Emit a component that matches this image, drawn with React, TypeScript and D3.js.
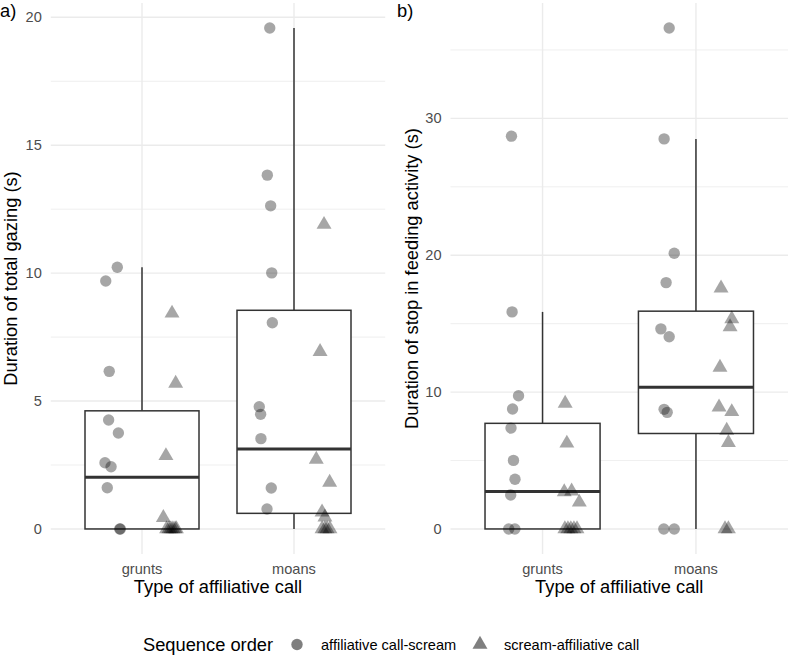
import * as React from "react"
import * as d3 from "d3"

// categories and groups
const callTypes = ["grunts", "moans"]
const orders = ["affiliative call-scream", "scream-affiliative call"]

// a) total gazing (s)
const gazeGruntsCS = [10.23, 9.69, 6.16, 4.26, 3.75, 2.59, 2.43, 1.61, 0, 0]
const gazeGruntsSC = [8.43, 5.69, 2.86, 0.44, 0, 0, 0, 0, 0, 0]
const gazeMoansCS = [19.58, 13.83, 12.63, 10.01, 8.06, 4.78, 4.48, 3.53, 1.6, 0.78]
const gazeMoansSC = [11.9, 6.93, 2.72, 1.82, 0.66, 0.46, 0, 0, 0, 0]

// jitter (category units) for the points of a)
const gazeGruntsCSJit = [0.025, -0.051, -0.028, -0.032, 0.032, -0.056, -0.016, -0.041, 0.041, 0.045]
const gazeGruntsSCJit = [0.01, 0.034, -0.03, -0.047, -0.026, -0.01, 0.003, 0.016, 0.03, 0.039]
const gazeMoansCSJit = [0.028, 0.012, 0.034, 0.041, 0.045, -0.041, -0.032, -0.03, 0.038, 0.01]
const gazeMoansSCJit = [0.01, -0.016, -0.041, 0.047, -0.003, 0.016, -0.003, 0.016, 0.03, 0.049]

// b) stop in feeding activity (s)
const stopGruntsCS = [28.7, 15.86, 9.73, 8.76, 7.37, 5.01, 3.63, 2.48, 0, 0]
const stopGruntsSC = [9.17, 6.26, 2.7, 2.76, 1.95, 0, 0, 0, 0, 0]
const stopMoansCS = [36.6, 28.5, 20.15, 18.0, 14.62, 14.04, 8.74, 8.52, 0, 0]
const stopMoansSC = [17.6, 15.35, 14.77, 11.8, 8.9, 8.56, 7.2, 6.3, 0, 0]

const stopGruntsCSJit = [-0.015, -0.011, 0.031, -0.008, -0.018, -0.002, 0.008, -0.02, -0.033, 0.007]
const stopGruntsSCJit = [-0.04, -0.029, -0.046, 0.002, 0.052, -0.042, -0.022, -0.003, 0.017, 0.037]
const stopMoansCSJit = [0.013, -0.02, 0.046, -0.007, -0.041, 0.013, -0.02, 0, -0.022, 0.046]
const stopMoansSCJit = [-0.024, 0.046, 0.035, -0.031, -0.037, 0.046, 0.013, 0.024, 0.002, 0.024]

const gazeTicks = [0, 5, 10, 15, 20]
const stopTicks = [0, 10, 20, 30]

const FONT = "'Liberation Sans', Arial, sans-serif"
const TITLE_SIZE = 18.3
const TICK_SIZE = 14.6
const PLOT_TOP = 3
const PLOT_BOTTOM = 554
const DODGE = 0.1875

interface Group {
    cat: string
    order: number
    values: number[]
    jitter: number[]
}

interface PanelProps {
    label: string
    yTitle: string
    groups: Group[]
    ticks: number[]
    left: number
    right: number
    titleX: number
}

const circlePath = d3.symbol(d3.symbolCircle, 102)()
const trianglePath = d3.symbol(d3.symbolTriangle, 97)()

function boxStats(vals: number[]) {
    const s = [...vals].sort(d3.ascending)
    const q1 = d3.quantileSorted(s, 0.25) as number
    const med = d3.quantileSorted(s, 0.5) as number
    const q3 = d3.quantileSorted(s, 0.75) as number
    const iqr = q3 - q1
    const lo = d3.min(s.filter(v => v >= q1 - 1.5 * iqr)) as number
    const hi = d3.max(s.filter(v => v <= q3 + 1.5 * iqr)) as number
    return { q1, med, q3, lo, hi }
}

function Panel(props: PanelProps) {
    const { groups, ticks, left, right } = props
    const all = groups.flatMap(g => g.values)
    const maxV = d3.max(all) as number
    const pad = maxV * 0.05

    const x = d3.scaleBand<string>()
        .domain(callTypes)
        .range([left, right])
        .paddingInner(0)
        .paddingOuter(0.1)
    const unit = x.bandwidth()
    const cx = (c: string) => (x(c) as number) + unit / 2

    const y = d3.scaleLinear()
        .domain([-pad, maxV + pad])
        .range([PLOT_BOTTOM, PLOT_TOP])

    const step = ticks[1] - ticks[0]
    const minor = ticks.map(t => t + step / 2).filter(t => y(t) >= PLOT_TOP)
    const boxW = unit * 0.75

    return (
        <g>
            {/* grid */}
            {minor.map(t => (
                <line key={"mi" + t} x1={left} x2={right} y1={y(t)} y2={y(t)}
                    stroke="#ebebeb" strokeWidth={0.8} />
            ))}
            {ticks.map(t => (
                <line key={"ma" + t} x1={left} x2={right} y1={y(t)} y2={y(t)}
                    stroke="#ebebeb" strokeWidth={1.4} />
            ))}
            {callTypes.map(c => (
                <line key={"v" + c} x1={cx(c)} x2={cx(c)} y1={PLOT_TOP} y2={PLOT_BOTTOM}
                    stroke="#ebebeb" strokeWidth={1.4} />
            ))}

            {/* boxplots */}
            {callTypes.map(c => {
                const vals = groups.filter(g => g.cat === c).flatMap(g => g.values)
                const b = boxStats(vals)
                const xc = cx(c)
                return (
                    <g key={"box" + c} stroke="#333333" fill="none">
                        <line x1={xc} x2={xc} y1={y(b.q3)} y2={y(b.hi)} strokeWidth={1.5} />
                        <line x1={xc} x2={xc} y1={y(b.q1)} y2={y(b.lo)} strokeWidth={1.5} />
                        <rect x={xc - boxW / 2} y={y(b.q3)} width={boxW} height={y(b.q1) - y(b.q3)}
                            fill="#ffffff" strokeWidth={1.5} />
                        <line x1={xc - boxW / 2} x2={xc + boxW / 2} y1={y(b.med)} y2={y(b.med)}
                            strokeWidth={3} />
                    </g>
                )
            })}

            {/* jittered points */}
            {groups.map((g, gi) => g.values.map((v, i) => {
                const px = cx(g.cat) + ((g.order === 0 ? -DODGE : DODGE) + g.jitter[i]) * unit
                return (
                    <path key={"p" + gi + "-" + i}
                        d={(g.order === 0 ? circlePath : trianglePath) as string}
                        transform={`translate(${px},${y(v)})`}
                        fill="#000000" fillOpacity={0.35} />
                )
            }))}

            {/* axes text */}
            {ticks.map(t => (
                <text key={"yt" + t} x={left - 9} y={y(t)} dy="0.35em" textAnchor="end"
                    fontSize={TICK_SIZE} fill="#4d4d4d">{t}</text>
            ))}
            {callTypes.map(c => (
                <text key={"xt" + c} x={cx(c)} y={574} textAnchor="middle"
                    fontSize={TICK_SIZE} fill="#4d4d4d">{c}</text>
            ))}
            <text x={(left + right) / 2} y={593} textAnchor="middle" fontSize={TITLE_SIZE}
                fill="#000">Type of affiliative call</text>
            <text transform={`translate(${props.titleX},${(PLOT_TOP + PLOT_BOTTOM) / 2}) rotate(-90)`}
                textAnchor="middle" fontSize={TITLE_SIZE} fill="#000">{props.yTitle}</text>
        </g>
    )
}

export default function App(): JSX.Element {
    const gazeGroups: Group[] = [
        { cat: "grunts", order: 0, values: gazeGruntsCS, jitter: gazeGruntsCSJit },
        { cat: "grunts", order: 1, values: gazeGruntsSC, jitter: gazeGruntsSCJit },
        { cat: "moans", order: 0, values: gazeMoansCS, jitter: gazeMoansCSJit },
        { cat: "moans", order: 1, values: gazeMoansSC, jitter: gazeMoansSCJit },
    ]
    const stopGroups: Group[] = [
        { cat: "grunts", order: 0, values: stopGruntsCS, jitter: stopGruntsCSJit },
        { cat: "grunts", order: 1, values: stopGruntsSC, jitter: stopGruntsSCJit },
        { cat: "moans", order: 0, values: stopMoansCS, jitter: stopMoansCSJit },
        { cat: "moans", order: 1, values: stopMoansSC, jitter: stopMoansSCJit },
    ]

    return (
        <svg width={789} height={657} style={{ position: "absolute", left: 0, top: 0, background: "#fff" }}
            fontFamily={FONT}>
            <rect width={789} height={657} fill="#ffffff" />
            <Panel label="a)" yTitle="Duration of total gazing (s)" groups={gazeGroups}
                ticks={gazeTicks} left={50.8} right={385.2} titleX={17} />
            <Panel label="b)" yTitle="Duration of stop in feeding activity (s)" groups={stopGroups}
                ticks={stopTicks} left={450.5} right={788} titleX={418} />
            <text x={0} y={17} fontSize={TITLE_SIZE}>a)</text>
            <text x={397} y={17} fontSize={TITLE_SIZE}>b)</text>

            {/* legend */}
            <text x={143} y={651} fontSize={TITLE_SIZE}>Sequence order</text>
            <path d={circlePath as string} transform="translate(297,644.5)" fill="#000" fillOpacity={0.5} />
            <text x={321} y={650} fontSize={TICK_SIZE}>{orders[0]}</text>
            <path d={trianglePath as string} transform="translate(480,644.5)" fill="#000" fillOpacity={0.5} />
            <text x={504} y={650} fontSize={TICK_SIZE}>{orders[1]}</text>
        </svg>
    )
}
